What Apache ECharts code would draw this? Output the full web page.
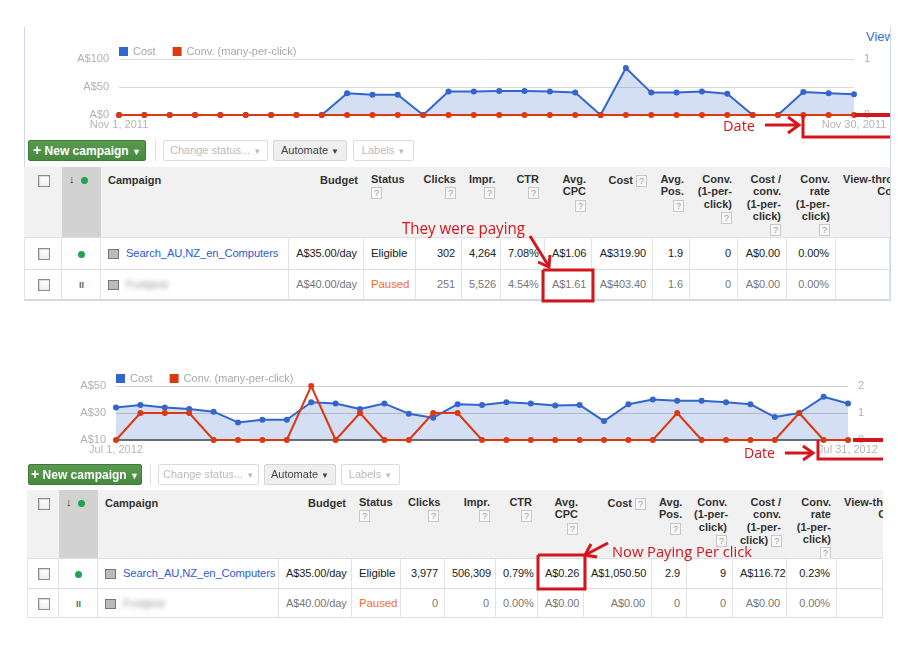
<!DOCTYPE html>
<html>
<head>
<meta charset="utf-8">
<script src="https://cdn.jsdelivr.net/npm/echarts@6/dist/echarts.min.js"></script>
<style>
body{margin:0;background:#fff;font-family:"Liberation Sans",Arial,sans-serif;}
#page{position:relative;width:921px;height:654px;overflow:hidden;background:#fff;}
.abs{position:absolute;}
.frame{border-left:1px solid #c9d7f1;border-right:1px solid #c9d7f1;border-bottom:1px solid #c9d7f1;box-sizing:border-box;}
.btn{position:absolute;box-sizing:border-box;border:1px solid #dcdcdc;border-radius:2px;background:#fff;color:#bbb;font-size:11px;text-align:center;white-space:nowrap;}
.btn.green{background:linear-gradient(#5b9a51,#468a3d);border-color:#3d7a35;color:#fff;font-weight:bold;font-size:12px;}
.btn.auto{background:#efefef;border-color:#d6d6d6;color:#444;}
.sep{position:absolute;width:1px;background:#e0e0e0;}
.hc{position:absolute;top:0;background:#f1f1f1;box-sizing:border-box;padding:6px 6px 0 7px;font-size:11px;font-weight:bold;line-height:12.3px;color:#333;border-bottom:1px solid #e0e0e0;overflow:hidden;white-space:nowrap;}
.sortc{background:#d2d2d2;}
.bc{position:absolute;box-sizing:border-box;padding:0 6px 0 7px;font-size:11px;letter-spacing:-0.1px;color:#222;border-right:1px solid #e3e3e3;border-bottom:1px solid #dcdcdc;white-space:nowrap;overflow:hidden;}
.q{display:inline-block;width:9px;height:10px;border:1px solid #c8c8c8;background:#f8f8f8;font-size:9px;line-height:10px;color:#999;text-align:center;font-weight:normal;margin-top:2px;}
.cb{display:inline-block;width:10px;height:10px;border:1px solid #8c8c8c;background:linear-gradient(#fff,#eee);box-shadow:inset 1px 1px 1px rgba(0,0,0,0.15);vertical-align:middle;}
.dot{display:inline-block;width:7px;height:7px;border-radius:50%;background:#21a34f;vertical-align:middle;}
.ico{display:inline-block;width:9px;height:8px;border:1px solid #777;background:#bbb;margin-right:7px;vertical-align:middle;}
.blur{filter:blur(2.5px);color:#999;}
.link{color:#2b5bd6;font-size:11.2px;}
.paused{color:#f07028;font-size:11.5px;}
.elig{font-size:11.5px;}
.vt{width:64px;text-align:right;}
</style>
</head>
<body>
<div id="page">
  <div class="abs frame" style="left:24px;top:27px;width:867px;height:274px"></div>
  <div class="abs" style="left:866px;top:29px;width:24px;overflow:hidden;color:#3a6fd0;font-size:13px;white-space:nowrap">View</div>
  <div id="chartNov" class="abs" style="left:0;top:0;width:921px;height:140px"></div>
  <div id="chartJul" class="abs" style="left:0;top:330px;width:921px;height:140px"></div>
</div>
<script>
// ---------- chart data ----------
var novDays = [];
for (var d = 1; d <= 30; ++d) novDays.push('Nov ' + d + ', 2011');
var julDays = [];
for (var d = 1; d <= 31; ++d) julDays.push('Jul ' + d + ', 2012');

var novCost = [0, 0, 0, 0, 0, 0, 0, 0, 0, 39, 36, 36, 0, 42, 42, 43, 43, 42, 40, 0, 84, 40, 40, 42, 38, 0, 0, 41, 39, 37];
var novConv = [0, 0, 0, 0, 0, 0, 0, 0, 0, 0, 0, 0, 0, 0, 0, 0, 0, 0, 0, 0, 0, 0, 0, 0, 0, 0, 0, 0, 0, 0];

var julCost = [34, 36, 34, 33, 31, 23, 25, 25, 38, 37, 33, 37, 29.5, 26.5, 36.5, 36, 38, 37, 35.5, 36, 24, 36.5, 40, 39, 39, 38, 36.5, 27, 30, 42, 37];
var julConv = [0, 1, 1, 1, 0, 0, 0, 0, 2, 0, 1, 0, 0, 1, 1, 0, 0, 0, 0, 0, 0, 0, 0, 1, 0, 0, 0, 0, 1, 0, 0];

var legendNames = ['Cost', 'Conv. (many-per-click)'];

// ---------- table data ----------
var headCols = ['Campaign', 'Budget', 'Status', 'Clicks', 'Impr.', 'CTR', 'Avg.<br>CPC', 'Cost', 'Avg.<br>Pos.', 'Conv.<br>(1-per-<br>click)', 'Cost /<br>conv.<br>(1-per-<br>click)', 'Conv.<br>rate<br>(1-per-<br>click)', 'View-through<br>Conv.'];
var novRows = [
    ['Search_AU,NZ_en_Computers', 'A$35.00/day', 'Eligible', '302', '4,264', '7.08%', 'A$1.06', 'A$319.90', '1.9', '0', 'A$0.00', '0.00%', ''],
    ['Fustgear', 'A$40.00/day', 'Paused', '251', '5,526', '4.54%', 'A$1.61', 'A$403.40', '1.6', '0', 'A$0.00', '0.00%', '']
];
var julRows = [
    ['Search_AU,NZ_en_Computers', 'A$35.00/day', 'Eligible', '3,977', '506,309', '0.79%', 'A$0.26', 'A$1,050.50', '2.9', '9', 'A$116.72', '0.23%', ''],
    ['Fustgear', 'A$40.00/day', 'Paused', '0', '0', '0.00%', 'A$0.00', 'A$0.00', '0', '0', 'A$0.00', '0.00%', '']
];
var novWidths = [38, 39, 188, 75, 52, 46, 39, 44, 47, 61, 37, 48, 49, 49, 54];
var julWidths = [32, 39, 181, 73, 49, 44, 51, 42, 46, 68, 35, 46, 54, 50, 46];

var FONT = '"Liberation Sans", Arial, sans-serif';

function makeChart(id, days, cost, conv, grid, legendTop, costAxis, convAxis, baseColor) {
    var chart = echarts.init(document.getElementById(id));
    var last = days.length - 1;
    chart.setOption({
        animation: false,
        textStyle: {fontFamily: FONT},
        legend: {
            left: grid.left, top: legendTop, padding: 0, icon: 'rect', itemWidth: 9, itemHeight: 9, itemGap: 17,
            textStyle: {color: '#a8a8a8', fontSize: 11},
            data: legendNames
        },
        grid: grid,
        xAxis: {
            type: 'category', boundaryGap: false, data: days,
            axisLine: {show: true, lineStyle: {color: baseColor, width: 2}},
            axisTick: {show: false},
            axisLabel: {
                color: '#b5b5b5', fontSize: 11, margin: 4,
                interval: function (i) { return i == 0 || i == last; }
            }
        },
        yAxis: [costAxis, convAxis],
        series: [{
            name: legendNames[0], type: 'line', data: cost, yAxisIndex: 0,
            symbol: 'circle', symbolSize: 6, color: '#3366cc',
            lineStyle: {width: 2}, areaStyle: {color: 'rgba(51,102,204,0.3)'}
        }, {
            name: legendNames[1], type: 'line', data: conv, yAxisIndex: 1,
            symbol: 'circle', symbolSize: 6, color: '#dc3912',
            lineStyle: {width: 2}
        }]
    });
}

makeChart('chartNov', novDays, novCost, novConv,
    {left: 119, right: 67, top: 59, bottom: 25}, 46,
    {type: 'value', min: 0, max: 100, interval: 50, axisLine: {show: false}, axisTick: {show: false},
     axisLabel: {formatter: 'A${value}', color: '#b0b0b0', fontSize: 11, margin: 10},
     splitLine: {lineStyle: {color: '#dcdcdc'}}},
    {type: 'value', min: 0, max: 1, interval: 1, axisLine: {show: false}, axisTick: {show: false},
     axisLabel: {color: '#b0b0b0', fontSize: 11, margin: 10}, splitLine: {show: false}},
    '#cccccc');

makeChart('chartJul', julDays, julCost, julConv,
    {left: 116, right: 73, top: 56, bottom: 30}, 43,
    {type: 'value', min: 10, max: 50, interval: 10, axisLine: {show: false}, axisTick: {show: false},
     axisLabel: {color: '#b0b0b0', fontSize: 11, margin: 10,
                 formatter: function (v) { return (v == 10 || v == 30 || v == 50) ? 'A$' + v : ''; }},
     splitLine: {show: false}},
    {type: 'value', min: 0, max: 2, interval: 1, axisLine: {show: false}, axisTick: {show: false},
     axisLabel: {color: '#b0b0b0', fontSize: 11, margin: 10}, splitLine: {lineStyle: {color: '#cfcfcf'}}},
    '#6e6e6e');

// ---------- toolbar + table ----------
function addDiv(cls, l, t, w, h, html) {
    var el = document.createElement('div');
    el.className = cls;
    el.style.left = l + 'px';
    el.style.top = t + 'px';
    el.style.width = w + 'px';
    el.style.height = h + 'px';
    if (html) el.innerHTML = html;
    document.getElementById('page').appendChild(el);
    return el;
}

function makeToolbar(top, h, pos) {
    var lh = (h - 2) + 'px';
    addDiv('btn green', pos[0], top, pos[1], h, '<b style="font-size:14px">+</b> New campaign <span style="font-size:9px">&#9660;</span>').style.lineHeight = lh;
    addDiv('sep', pos[2], top, 1, h);
    addDiv('btn', pos[3], top, pos[4], h, 'Change status... <span style="font-size:8px">&#9660;</span>').style.lineHeight = lh;
    addDiv('btn auto', pos[5], top, pos[6], h, 'Automate <span style="font-size:8px">&#9660;</span>').style.lineHeight = lh;
    addDiv('btn', pos[7], top, pos[8], h, 'Labels <span style="font-size:8px">&#9660;</span>').style.lineHeight = lh;
}

function makeTable(left, top, widths, headH, rowHs, rows, costQInline) {
    var q = '<span class="q">?</span>';
    var heads = ['<span class="cb" style="margin-top:2px"></span>', '<span style="font-size:11px">&#8595;</span>&nbsp; <span class="dot"></span>'];
    for (var i = 0; i < headCols.length; ++i) {
        var t = headCols[i];
        if (i == 0 || i == 1) heads.push(t);
        else if (i == 7) heads.push(t + ' ' + q);
        else if (i == 10 && costQInline) heads.push(t + ' ' + q);
        else if (i == 12) heads.push('<div class="vt">' + t + '</div>');
        else heads.push(t + '<br>' + q);
    }
    var hAlign = ['center', 'left', 'left', 'right', 'left', 'right', 'right', 'right', 'right', 'right', 'right', 'right', 'right', 'right', 'left'];
    var bAlign = ['center', 'center', 'left', 'right', 'left', 'right', 'right', 'right', 'right', 'right', 'right', 'right', 'right', 'right', 'right'];
    var x = left;
    for (var i = 0; i < widths.length; ++i) {
        var h = addDiv('hc' + (i == 1 ? ' sortc' : ''), x, top, widths[i], headH, heads[i]);
        h.style.textAlign = hAlign[i];
        if (i == 2 || i == 3) h.style.paddingTop = '7px';
        x += widths[i];
    }
    var y = top + headH;
    for (var r = 0; r < rows.length; ++r) {
        var cells = ['<span class="cb"></span>',
            r == 0 ? '<span class="dot"></span>' : '<span style="font-size:9px;color:#666;font-weight:bold">II</span>'];
        for (var k = 0; k < rows[r].length; ++k) {
            var v = rows[r][k];
            if (k == 0) v = '<span class="ico"></span>' + (r == 0 ? '<span class="link">' + v + '</span>' : '<span class="blur">' + v + '</span>');
            if (k == 2) v = '<span class="' + (r == 1 ? 'paused' : 'elig') + '">' + v + '</span>';
            cells.push(v);
        }
        x = left;
        for (var i = 0; i < widths.length; ++i) {
            var c = addDiv('bc', x, y, widths[i], rowHs[r], cells[i]);
            c.style.lineHeight = (rowHs[r] - 1) + 'px';
            c.style.textAlign = bAlign[i];
            if (r == 1) c.style.color = '#777';
            if (i == 0) c.style.borderLeft = '1px solid #e3e3e3';
            x += widths[i];
        }
        y += rowHs[r];
    }
}

makeToolbar(140, 21, [28, 118, 155, 163, 105, 273, 74, 353, 61]);
makeTable(24, 167, novWidths, 71, [32, 30], novRows, false);
makeToolbar(464, 21, [28, 114, 150, 158, 101, 264, 72, 341, 59]);
makeTable(27, 490, julWidths, 69, [30, 29], julRows, true);

// ---------- red annotations ----------
var svgNS = 'http://www.w3.org/2000/svg';
var svg = document.createElementNS(svgNS, 'svg');
svg.setAttribute('width', 921);
svg.setAttribute('height', 654);
svg.setAttribute('style', 'position:absolute;left:0;top:0;pointer-events:none');
document.getElementById('page').appendChild(svg);
var RED = '#d3151c';
function pl(pts, w) {
    var p = document.createElementNS(svgNS, 'polyline');
    p.setAttribute('points', pts);
    p.setAttribute('fill', 'none');
    p.setAttribute('stroke', RED);
    p.setAttribute('stroke-width', w || 3);
    svg.appendChild(p);
}
function txt(s, x, y, size, len) {
    var t = document.createElementNS(svgNS, 'text');
    t.setAttribute('x', x);
    t.setAttribute('y', y);
    t.setAttribute('fill', RED);
    t.setAttribute('font-family', '"Open Sans", "Noto Sans", sans-serif');
    t.setAttribute('font-size', size);
    t.setAttribute('textLength', len);
    t.setAttribute('lengthAdjust', 'spacingAndGlyphs');
    t.textContent = s;
    svg.appendChild(t);
}
// top "Date" bracket
pl('855,115 890,115', 4);
pl('803,115 803,137 890,137', 3);
pl('765,125 797,125', 3);
pl('788,117 799,125 788,133', 3);
txt('Date', 723, 131, 15, 32);
// bottom "Date" bracket
pl('853,440 883,440', 4);
pl('818,440 818,459 883,459', 3);
pl('785,453 811,453', 3);
pl('803,446 813,453 803,460', 3);
txt('Date', 744, 458, 15, 31);
// "They were paying"
txt('They were paying', 402, 234, 16, 123);
pl('530,236 548,265', 3);
pl('538,262 549,267 550,255', 3);
pl('543,270 593,270 593,301 543,301 543,270', 3);
// "Now Paying Per click"
txt('Now Paying Per click', 612, 557, 15, 140);
pl('608,543 587,554', 3);
pl('597,557 585,555 591,544', 3);
pl('538,555 585,555 585,589 538,589 538,555', 3);
</script>
</body>
</html>
